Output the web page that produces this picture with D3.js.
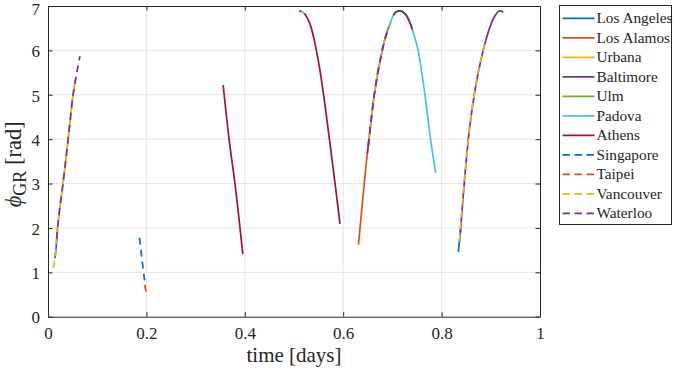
<!DOCTYPE html>
<html>
<head>
<meta charset="utf-8">
<script src="https://cdn.jsdelivr.net/npm/d3@7"></script>
<style>
  body { margin: 0; background: #fff; }
  text { font-family: "Liberation Serif", "DejaVu Serif", serif; fill: #262626; }
</style>
</head>
<body>
<div id="chart"></div>
<script>
// time [days], phi_GR [rad] -- each series is a list of separate pieces
var losAngeles = [
  [[0.0142, 1.32], [0.0170, 1.62], [0.0195, 2.0]],
  [[0.834, 1.46], [0.8365, 1.72], [0.839, 1.99]]
];
var losAlamos = [
  [[0.631, 1.63], [0.640, 2.67], [0.649, 3.68], [0.6524, 4.0]]
];
var urbana = [
  [[0.0175, 1.75], [0.0195, 2.0], [0.0305, 3.0], [0.041, 4.0], [0.051, 5.0], [0.057, 5.41]]
];
var baltimore = [
  [[0.5105, 6.89], [0.5135, 6.885], [0.516, 6.875]],
  [[0.649, 3.68], [0.6524, 4.0], [0.6633, 5.01], [0.6795, 6.01], [0.6904, 6.46], [0.6937, 6.55]],
  [[0.838, 1.9], [0.846, 3.0], [0.8543, 4.0], [0.8665, 5.01], [0.8848, 6.01], [0.8984, 6.53],
   [0.9085, 6.78], [0.9187, 6.89], [0.9254, 6.86]]
];
var ulm = [
  [[0.6880, 6.38], [0.6904, 6.46], [0.6937, 6.55], [0.697, 6.64]]
];
var padova = [
  [[0.5145, 6.88], [0.518, 6.86], [0.522, 6.82]],
  [[0.6937, 6.55], [0.7019, 6.79], [0.708, 6.87], [0.7154, 6.89], [0.722, 6.86], [0.730, 6.76],
   [0.7405, 6.47], [0.752, 6.01], [0.766, 5.01], [0.7775, 4.0], [0.788, 3.24]]
];
var athens = [
  [[0.356, 5.22], [0.368, 4.0], [0.380, 3.0], [0.396, 1.41]],
  [[0.521, 6.83], [0.526, 6.75], [0.533, 6.58], [0.543, 6.14], [0.552, 5.6], [0.560, 5.01],
   [0.572, 4.0], [0.5835, 3.0], [0.5935, 2.09]],
  [[0.7019, 6.79], [0.708, 6.87], [0.7154, 6.89], [0.722, 6.86], [0.730, 6.76], [0.7405, 6.47]]
];
var singapore = [
  [[0.186, 1.78], [0.191, 1.3], [0.197, 0.75]]
];
var taipei = [
  [[0.1965, 0.72], [0.200, 0.52]]
];
var vancouver = [
  [[0.0108, 1.10], [0.0142, 1.32], [0.0195, 2.0], [0.0305, 3.0], [0.041, 4.0], [0.051, 5.0], [0.057, 5.41]],
  [[0.6524, 4.0], [0.6633, 5.01], [0.6795, 6.01], [0.6880, 6.38]],
  [[0.836, 1.7], [0.846, 3.0], [0.8543, 4.0], [0.8665, 5.01], [0.8848, 6.01], [0.888, 6.15]]
];
var waterloo = [
  [[0.0175, 1.75], [0.0195, 2.0], [0.0305, 3.0], [0.041, 4.0], [0.051, 5.0], [0.057, 5.41], [0.065, 5.87]],
  [[0.6510, 3.85], [0.6633, 5.01], [0.6795, 6.01], [0.6890, 6.41]]
];

var names = ["Los Angeles", "Los Alamos", "Urbana", "Baltimore", "Ulm", "Padova", "Athens",
             "Singapore", "Taipei", "Vancouver", "Waterloo"];
var xTicks = [0, 0.2, 0.4, 0.6, 0.8, 1];
var yTicks = [0, 1, 2, 3, 4, 5, 6, 7];

var seriesData = [losAngeles, losAlamos, urbana, baltimore, ulm, padova, athens,
                  singapore, taipei, vancouver, waterloo];
var colors = ["#0072BD", "#D95319", "#EDB120", "#7E2F8E", "#77AC30", "#4DBEEE", "#A2142F",
              "#0072BD", "#D95319", "#EDB120", "#7E2F8E"];
var dashed = [false, false, false, false, false, false, false, true, true, true, true];

var W = 685, H = 371;
var margin = { top: 6, left: 48 };
var width = 492, height = 310.7;

var svg = d3.select("#chart").append("svg")
  .attr("width", W).attr("height", H);

var x = d3.scaleLinear().domain([0, 1]).range([margin.left, margin.left + width]);
var y = d3.scaleLinear().domain([0, 7]).range([margin.top + height, margin.top]);

// grid
svg.append("g").selectAll("line").data(xTicks.slice(1, -1)).enter().append("line")
  .attr("x1", d => x(d)).attr("x2", d => x(d))
  .attr("y1", y(0)).attr("y2", y(7))
  .attr("stroke", "#e6e6e6").attr("stroke-width", 1);
svg.append("g").selectAll("line").data(yTicks.slice(1, -1)).enter().append("line")
  .attr("x1", x(0)).attr("x2", x(1))
  .attr("y1", d => y(d)).attr("y2", d => y(d))
  .attr("stroke", "#e6e6e6").attr("stroke-width", 1);

// curves
var line = d3.line()
  .x(d => x(d[0])).y(d => y(d[1]))
  .curve(d3.curveMonotoneX);

seriesData.forEach(function (pieces, i) {
  svg.append("g")
    .selectAll("path")
    .data(pieces)
    .enter()
    .append("path")
    .attr("d", line)
    .attr("fill", "none")
    .attr("stroke", colors[i])
    .attr("stroke-width", 1.7)
    .attr("stroke-dasharray", dashed[i] ? "7,5" : null);
});

// axes (box with inward ticks)
var fs = 17;
var fmt = d3.format("~g");
var axBottom = svg.append("g").attr("transform", "translate(0," + y(0) + ")")
  .call(d3.axisBottom(x).tickValues(xTicks).tickFormat(fmt).tickSizeInner(-4.5).tickSizeOuter(0).tickPadding(10));
var axTop = svg.append("g").attr("transform", "translate(0," + y(7) + ")")
  .call(d3.axisTop(x).tickValues(xTicks).tickFormat("").tickSizeInner(-4.5).tickSizeOuter(0));
var axLeft = svg.append("g").attr("transform", "translate(" + x(0) + ",0)")
  .call(d3.axisLeft(y).tickValues(yTicks).tickFormat(fmt).tickSizeInner(-4.5).tickSizeOuter(0).tickPadding(8));
var axRight = svg.append("g").attr("transform", "translate(" + x(1) + ",0)")
  .call(d3.axisRight(y).tickValues(yTicks).tickFormat("").tickSizeInner(-4.5).tickSizeOuter(0));

[axBottom, axTop, axLeft, axRight].forEach(function (g) {
  g.select(".domain").attr("stroke", "#262626").attr("stroke-width", 1);
  g.selectAll(".tick line").attr("stroke", "#262626");
  g.selectAll("text").style("font-family", "Liberation Serif").style("font-size", fs + "px").attr("fill", "#262626");
});
axLeft.selectAll("text").attr("dy", d => d === 7 ? "0.52em" : "0.37em");

// axis labels
svg.append("text")
  .attr("x", x(0.5)).attr("y", 362)
  .attr("text-anchor", "middle")
  .style("font-size", "21px")
  .text("time [days]");

var ylab = svg.append("text")
  .attr("transform", "translate(21," + (margin.top + height / 2 + 3) + ") rotate(-90)")
  .attr("text-anchor", "middle")
  .style("font-size", "22.5px");
ylab.append("tspan").style("font-style", "italic").text("\u03d5");
ylab.append("tspan").attr("dy", 5).style("font-size", "18px").text("GR");
ylab.append("tspan").attr("dy", -5).text(" [rad]");

// legend
var legend = svg.append("g");
legend.append("rect")
  .attr("x", 559.5).attr("y", 5.5).attr("width", 112).attr("height", 219)
  .attr("fill", "#fff").attr("stroke", "#262626").attr("stroke-width", 1);

var item = legend.selectAll(".item").data(names).enter().append("g")
  .attr("class", "item")
  .attr("transform", (d, i) => "translate(0," + (18.3 + i * 19.5) + ")");
item.append("line")
  .attr("x1", 562.5).attr("x2", 594.5)
  .attr("stroke", (d, i) => colors[i])
  .attr("stroke-width", 1.7)
  .attr("stroke-dasharray", (d, i) => dashed[i] ? "7.5,4.5" : null);
item.append("text")
  .attr("x", 596.5).attr("y", 5)
  .style("font-size", "15.3px")
  .text(d => d);
</script>
</body>
</html>
